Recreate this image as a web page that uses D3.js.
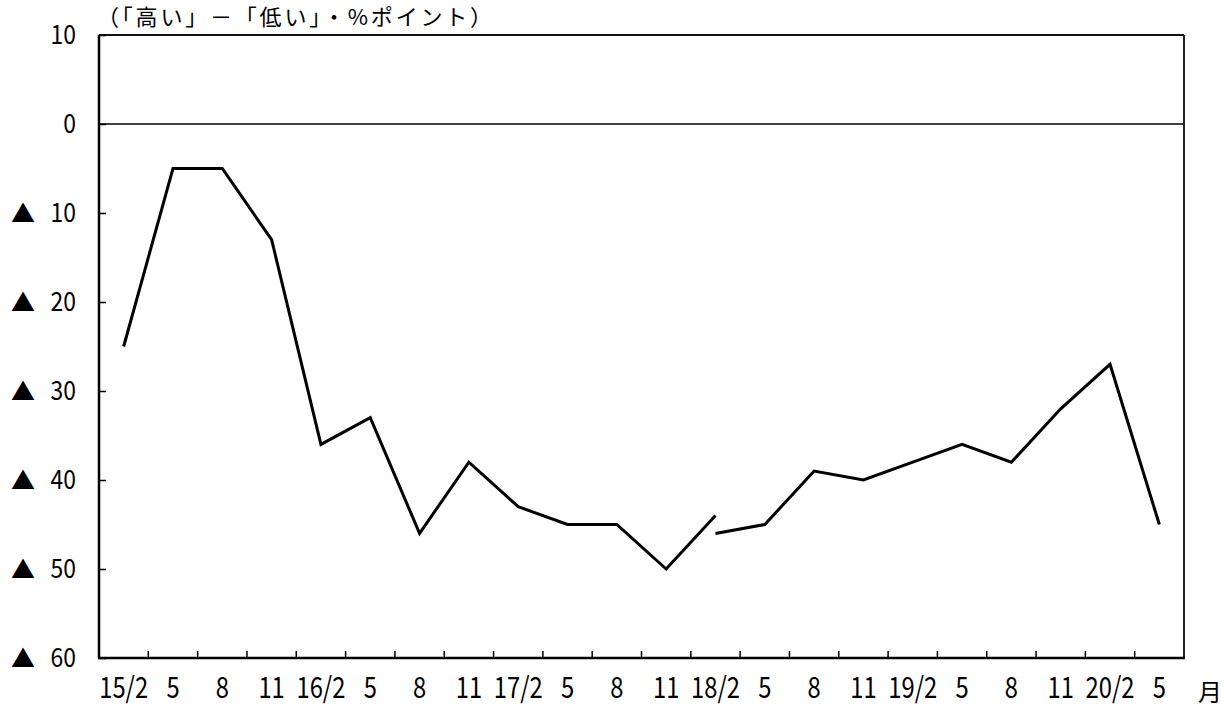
<!DOCTYPE html>
<html><head><meta charset="utf-8">
<script src="https://cdn.jsdelivr.net/npm/d3@7"></script>
<style>
html,body{margin:0;padding:0;background:#fff;}
text{font-family:"Noto Sans CJK JP","DejaVu Sans",sans-serif;fill:#000;}
</style></head>
<body>
<svg id="chart" width="1221" height="711"></svg>
<script>
const categories = ["15/2","5","8","11","16/2","5","8","11","17/2","5","8","11","18/2","5","8","11","19/2","5","8","11","20/2","5"];
const seriesOld = [-25,-5,-5,-13,-36,-33,-46,-38,-43,-45,-45,-50,-44];
const seriesNew = [null,null,null,null,null,null,null,null,null,null,null,null,-46,-45,-39,-40,-38,-36,-38,-32,-27,-45];
const yTicks = [10,0,-10,-20,-30,-40,-50,-60];
const unitLabel = "（「高い」－「低い」・%ポイント）";
const monthLabel = "月";

const svg = d3.select("#chart");
const L = 99, R = 1184, T = 35, B = 658;
const x = d3.scaleBand().domain(d3.range(categories.length)).range([L, R]);
const y = d3.scaleLinear().domain([-60, 10]).range([B, T]);

// zero line
svg.append("line").attr("x1", L).attr("x2", R).attr("y1", y(0)).attr("y2", y(0))
  .attr("stroke", "#000").attr("stroke-width", 1.5);

// frame top / right
svg.append("line").attr("x1", L).attr("x2", R).attr("y1", T).attr("y2", T)
  .attr("stroke", "#111").attr("stroke-width", 2);
svg.append("line").attr("x1", R).attr("x2", R).attr("y1", T).attr("y2", B)
  .attr("stroke", "#222").attr("stroke-width", 2);

// left axis
const yAxis = d3.axisRight(y).tickValues(yTicks).tickSize(7).tickFormat(() => "");
const gy = svg.append("g").attr("transform", `translate(${L},0)`).call(yAxis);
gy.select(".domain").attr("stroke-width", 2.5).attr("d", `M0,${T}V${B}`);
gy.selectAll(".tick line").attr("stroke-width", 1.5);
yTicks.forEach(v => {
  svg.append("g").attr("transform", `translate(76,${y(v)}) scale(0.88,1)`)
    .append("text").attr("dy", "0.36em")
    .attr("text-anchor", "end").attr("font-size", 26).text(Math.abs(v));
  if (v < 0) {
    svg.append("text").attr("x", 23).attr("y", y(v)).attr("dy", "0.36em")
      .attr("text-anchor", "middle").attr("font-size", 24).text("▲");
  }
});

// bottom axis
const boundaries = d3.range(1, categories.length).map(i => x(i));
svg.append("line").attr("x1", L - 1).attr("x2", R + 1).attr("y1", B).attr("y2", B)
  .attr("stroke", "#000").attr("stroke-width", 2.5);
svg.selectAll(".xt").data(boundaries).join("line")
  .attr("x1", d => d).attr("x2", d => d).attr("y1", B).attr("y2", B - 7)
  .attr("stroke", "#000").attr("stroke-width", 1.5);
svg.selectAll(".xl").data(categories).join("g")
  .attr("transform", (d, i) => `translate(${x(i) + x.bandwidth() / 2},698) scale(0.82,1)`)
  .append("text").attr("text-anchor", "middle").attr("font-size", 29).text(d => d);

svg.append("text").attr("x", 1210).attr("y", 701).attr("text-anchor", "middle")
  .attr("font-size", 24).text(monthLabel);
svg.append("text").attr("x", 97).attr("y", 25).attr("font-size", 22)
  .attr("letter-spacing", 2.8).text(unitLabel);

// lines
const line = d3.line().defined(d => d != null)
  .x((d, i) => x(i) + x.bandwidth() / 2).y(d => y(d));
[seriesOld, seriesNew].forEach(s => {
  svg.append("path").datum(s).attr("d", line).attr("fill", "none")
    .attr("stroke", "#000").attr("stroke-width", 3).attr("stroke-linejoin", "miter");
});
</script>
</body></html>
